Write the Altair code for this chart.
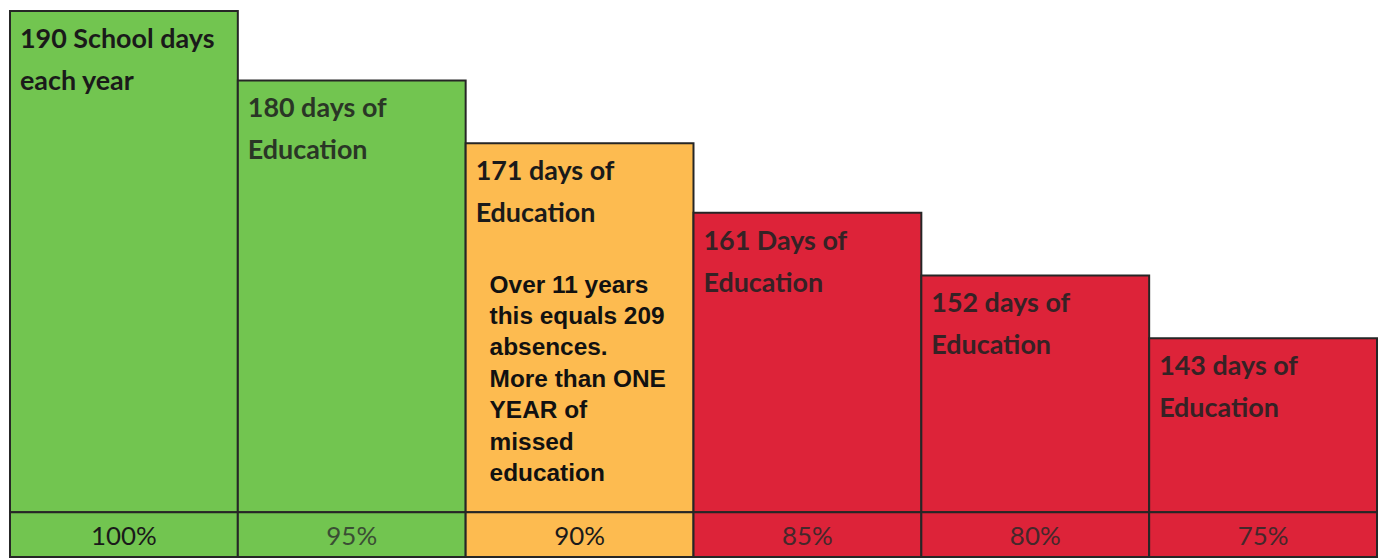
import altair as alt
import pandas as pd

pcts = ["100%", "95%", "90%", "85%", "80%", "75%"]
days = [190, 180, 171, 161, 152, 143]
labels = [
    "190 School days\neach year",
    "180 days of\nEducation",
    "171 days of\nEducation",
    "161 Days of\nEducation",
    "152 days of\nEducation",
    "143 days of\nEducation",
]
fills = ["#72c550", "#72c550", "#fdbb50", "#dd2339", "#dd2339", "#dd2339"]
label_colors = ["#1a1a1a", "#2a3626", "#1a1a1a", "#352225", "#352225", "#352225"]
pct_colors = ["#1a1a1a", "#3a4e34", "#1a1a1a", "#45282b", "#45282b", "#45282b"]

note_pct = ["90%"]
note_days = [171]
note_text = ["Over 11 years\nthis equals 209\nabsences.\nMore than ONE\nYEAR of\nmissed\neducation"]

df = pd.DataFrame({
    "pct": pcts, "days": days, "label": labels,
    "fill": fills, "lcolor": label_colors, "pcolor": pct_colors,
})
note_df = pd.DataFrame({"pct": note_pct, "days": note_days, "note": note_text})

W = 1372
H = 548
ROW = 45
BASE = 118
STROKE = "#262626"

xscale = alt.Scale(domain=pcts, paddingInner=0, paddingOuter=0)
# bottom row (percent cells) occupies the region below BASE
lo = BASE - ROW * (190 - BASE) / (H - ROW)
yscale = alt.Scale(domain=[lo, 190], zero=False, nice=False)

bars = alt.Chart(df).mark_bar(stroke=STROKE, strokeWidth=2).encode(
    x=alt.X("pct:N", sort=pcts, scale=xscale, axis=None),
    y=alt.Y("days:Q", scale=yscale, axis=None),
    y2=alt.Y2(datum=BASE),
    color=alt.Color("fill:N", scale=None),
)

cells = alt.Chart(df).mark_rect(stroke=STROKE, strokeWidth=2).encode(
    x=alt.X("pct:N", sort=pcts, scale=xscale, axis=None),
    y=alt.Y(datum=BASE, scale=yscale, axis=None),
    y2=alt.value(H),
    color=alt.Color("fill:N", scale=None),
)

lbl = alt.Chart(df).mark_text(
    align="left", baseline="top", dx=10, dy=16, font="Lato", fontSize=27,
    fontWeight="bold", lineHeight=42, lineBreak="\n",
).encode(
    x=alt.X("pct:N", sort=pcts, scale=xscale, axis=None, bandPosition=0),
    y=alt.Y("days:Q", scale=yscale, axis=None),
    text="label:N",
    color=alt.Color("lcolor:N", scale=None),
)

note = alt.Chart(note_df).mark_text(
    align="left", baseline="top", dx=24, dy=131, font="Liberation Sans", fontSize=24.5,
    fontWeight="bold", lineHeight=31.5, lineBreak="\n", color="#111111",
).encode(
    x=alt.X("pct:N", sort=pcts, scale=xscale, axis=None, bandPosition=0),
    y=alt.Y("days:Q", scale=yscale, axis=None),
    text="note:N",
)

ptxt = alt.Chart(df).mark_text(
    align="center", baseline="middle", font="Lato", fontSize=26,
).encode(
    x=alt.X("pct:N", sort=pcts, scale=xscale, axis=None),
    y=alt.value(H - ROW / 2 + 2),
    text="pct:N",
    color=alt.Color("pcolor:N", scale=None),
)

chart = alt.layer(bars, cells, lbl, note, ptxt).properties(
    width=W, height=H,
    padding={"left": 1, "top": 1, "right": 0, "bottom": 1},
).configure_view(stroke=None)

chart.save("out.html", embed_options={"renderer": "svg", "actions": False})
